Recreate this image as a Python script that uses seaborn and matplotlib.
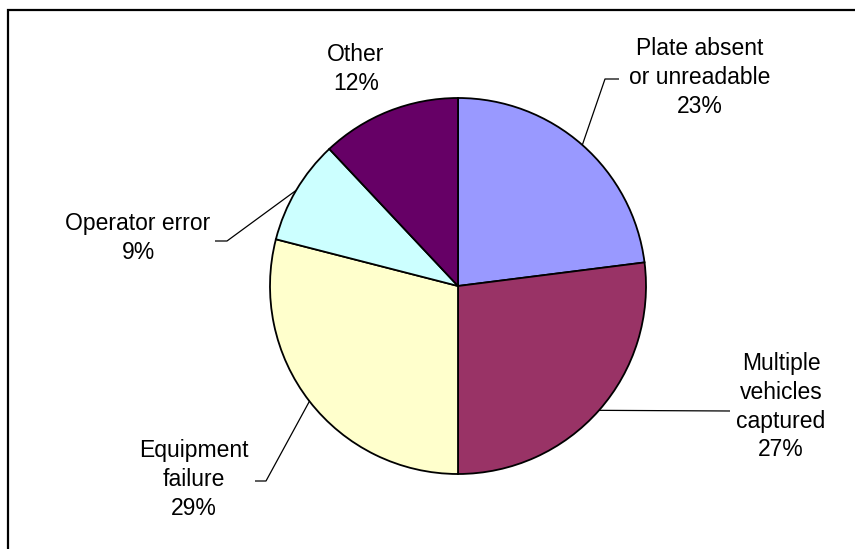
import matplotlib
matplotlib.use("Agg")
import matplotlib.pyplot as plt
import numpy as np
import seaborn as sns

# Causes, in clockwise order starting from 12 o'clock
causes = ["Plate absent\nor unreadable", "Multiple\nvehicles\ncaptured",
          "Equipment\nfailure", "Operator error", "Other"]
shares = [23, 27, 29, 9, 12]
slice_colors = ["#9999FF", "#993366", "#FFFFCC", "#CCFFFF", "#660066"]

sns.set_theme(style="white")
plt.rcParams["font.family"] = ["Liberation Sans", "DejaVu Sans"]

W, H = 855, 549
fig = plt.figure(figsize=(W / 100, H / 100), dpi=100)
ax = fig.add_axes([0, 0, 1, 1])

center = (458, 286)
radius = 188

wedges, _ = ax.pie(shares, colors=sns.color_palette(slice_colors),
                   startangle=-90, counterclock=True,
                   center=center, radius=radius,
                   wedgeprops=dict(edgecolor="black", linewidth=1.3))

# pixel-style coordinates, y pointing down
ax.set_xlim(0, W)
ax.set_ylim(H, 0)
ax.set_aspect("equal")
ax.axis("off")

# label anchor (top-centre of text block) and leader-line path beyond the rim
label_pos = [(700, 37), (781, 352), (194, 439), (138, 212), (356, 43)]
leader_path = [
    [(605, 79), (619, 79)],
    [(730, 411)],
    [(266, 481), (255, 481)],
    [(227, 241), (215, 241)],
    None,
]

for w, name, val, (tx, ty), path in zip(wedges, causes, shares, label_pos, leader_path):
    ax.text(tx, ty, f"{name}\n{val}%", ha="center", va="top",
            fontsize=16.5, linespacing=1.32, color="black")
    if path is not None:
        mid = np.deg2rad((w.theta1 + w.theta2) / 2)
        x0 = center[0] + radius * np.cos(mid)
        y0 = center[1] + radius * np.sin(mid)
        xs = [x0] + [p[0] for p in path]
        ys = [y0] + [p[1] for p in path]
        ax.plot(xs, ys, color="black", linewidth=0.9, solid_capstyle="butt")

# chart-area border (left and top edges are inside the canvas)
ax.plot([8, 8, W + 5], [H + 5, 10, 10], color="black", linewidth=1.6,
        clip_on=False, solid_joinstyle="miter")

fig.savefig("out.png", dpi=100)
